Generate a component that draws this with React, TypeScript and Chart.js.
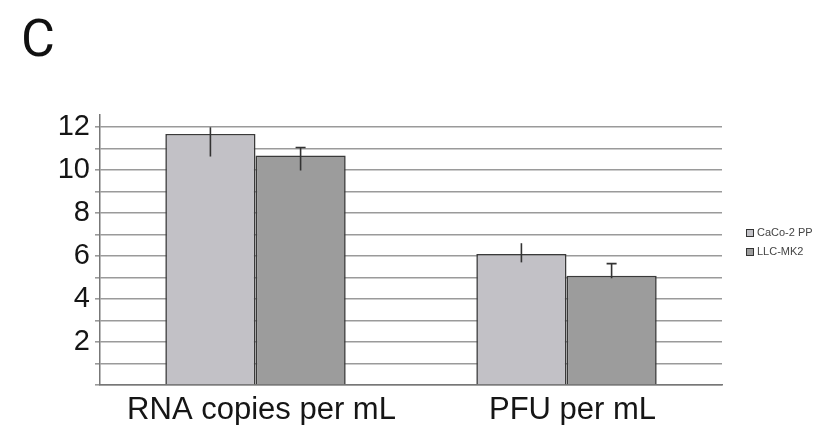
import React, { useEffect, useRef } from "react";
import { Chart, registerables } from "chart.js";

Chart.register(...registerables);

const categories = ["RNA copies per mL", "PFU per mL"];
const seriesNames = ["CaCo-2 PP", "LLC-MK2"];
const caco2Values = [11.67, 6.09];
const llcValues = [10.67, 5.08];
const caco2ErrHigh = [11.98, 6.59];
const caco2ErrLow = [10.62, 5.7];
const llcErrHigh = [11.04, 5.64];
const llcErrLow = [9.97, 4.96];
const yTickLabels = [2, 4, 6, 8, 10, 12];

const FONT = "'Liberation Sans', Arial, sans-serif";

export default function App() {
  const ref = useRef<HTMLCanvasElement | null>(null);
  useEffect(() => {
    if (!ref.current) return;
    const errHigh = [caco2ErrHigh, llcErrHigh];
    const errLow = [caco2ErrLow, llcErrLow];
    const capWidths = [0, 10];
    const fills = ["#c2c1c6", "#9c9c9c"];

    const errorBars = {
      id: "errorBars",
      afterDatasetsDraw(chart: any) {
        const ctx = chart.ctx;
        const y = chart.scales.y;
        ctx.save();
        ctx.strokeStyle = "#333";
        ctx.lineWidth = 1.6;
        chart.data.datasets.forEach((ds: any, di: number) => {
          const meta = chart.getDatasetMeta(di);
          meta.data.forEach((bar: any, i: number) => {
            const x = bar.x;
            const yh = y.getPixelForValue(errHigh[di][i]);
            const yl = y.getPixelForValue(errLow[di][i]);
            ctx.beginPath();
            ctx.moveTo(x, yh);
            ctx.lineTo(x, yl);
            const cw = capWidths[di];
            if (cw > 0) {
              ctx.moveTo(x - cw / 2, yh);
              ctx.lineTo(x + cw / 2, yh);
            }
            ctx.stroke();
          });
        });
        ctx.restore();
      },
    };

    const extras = {
      id: "extras",
      afterDraw(chart: any) {
        const ctx = chart.ctx;
        ctx.save();
        ctx.fillStyle = "#111";
        ctx.font = `400 52px Roboto, ${FONT}`;
        ctx.textBaseline = "alphabetic";
        ctx.textAlign = "left";
        ctx.fillText("C", 21, 56);
        // legend
        ctx.font = `11px ${FONT}`;
        ctx.textBaseline = "middle";
        seriesNames.forEach((name, i) => {
          const cy = 233 + i * 19;
          ctx.fillStyle = fills[i];
          ctx.fillRect(746, cy - 4, 8, 8);
          ctx.strokeStyle = "#333";
          ctx.lineWidth = 1;
          ctx.strokeRect(746.5, cy - 3.5, 7, 7);
          ctx.fillStyle = "#444";
          ctx.fillText(name, 757, cy);
        });
        ctx.restore();
      },
    };

    const chart = new Chart(ref.current, {
      type: "bar",
      data: {
        labels: categories,
        datasets: [
          {
            label: seriesNames[0],
            data: caco2Values,
            backgroundColor: fills[0],
            borderColor: "#3a3a3a",
            borderWidth: 1.6,
            categoryPercentage: 0.58,
            barPercentage: 1,
          },
          {
            label: seriesNames[1],
            data: llcValues,
            backgroundColor: fills[1],
            borderColor: "#3a3a3a",
            borderWidth: 1.6,
            categoryPercentage: 0.58,
            barPercentage: 1,
          },
        ],
      },
      options: {
        animation: false,
        responsive: false,
        maintainAspectRatio: false,
        layout: { padding: { left: 0, right: 117, top: 115, bottom: 0 } },
        plugins: {
          legend: { display: false },
          tooltip: { enabled: false },
          title: { display: false },
        },
        scales: {
          x: {
            grid: { display: false, drawTicks: false },
            border: { display: true, color: "#777", width: 1.5 },
            ticks: {
              color: "#151515",
              font: { family: FONT, size: 31 },
              padding: 7,
              labelOffset: 6,
              maxRotation: 0,
              autoSkip: false,
            },
            afterFit(scale: any) {
              scale.height = 40;
            },
          },
          y: {
            min: 0,
            max: 12.55,
            afterBuildTicks(scale: any) {
              const t = [];
              for (let v = 0; v <= 12; v++) t.push({ value: v });
              scale.ticks = t;
            },
            ticks: {
              color: "#151515",
              font: { family: FONT, size: 29 },
              padding: 5,
              autoSkip: false,
              callback: (v: any) => (yTickLabels.includes(Number(v)) ? String(v) : ""),
            },
            grid: { color: "#9a9a9a", lineWidth: 1.6, tickLength: 5 },
            border: { display: true, color: "#777", width: 1.5 },
            afterFit(scale: any) {
              scale.width = 100;
            },
          },
        },
      },
      plugins: [errorBars, extras],
    });
    return () => chart.destroy();
  }, []);

  return (
    <div style={{ position: "fixed", left: 0, top: 0, width: 839, height: 425, background: "#fff" }}>
      <canvas ref={ref} width={839} height={425} style={{ width: 839, height: 425 }} />
    </div>
  );
}
